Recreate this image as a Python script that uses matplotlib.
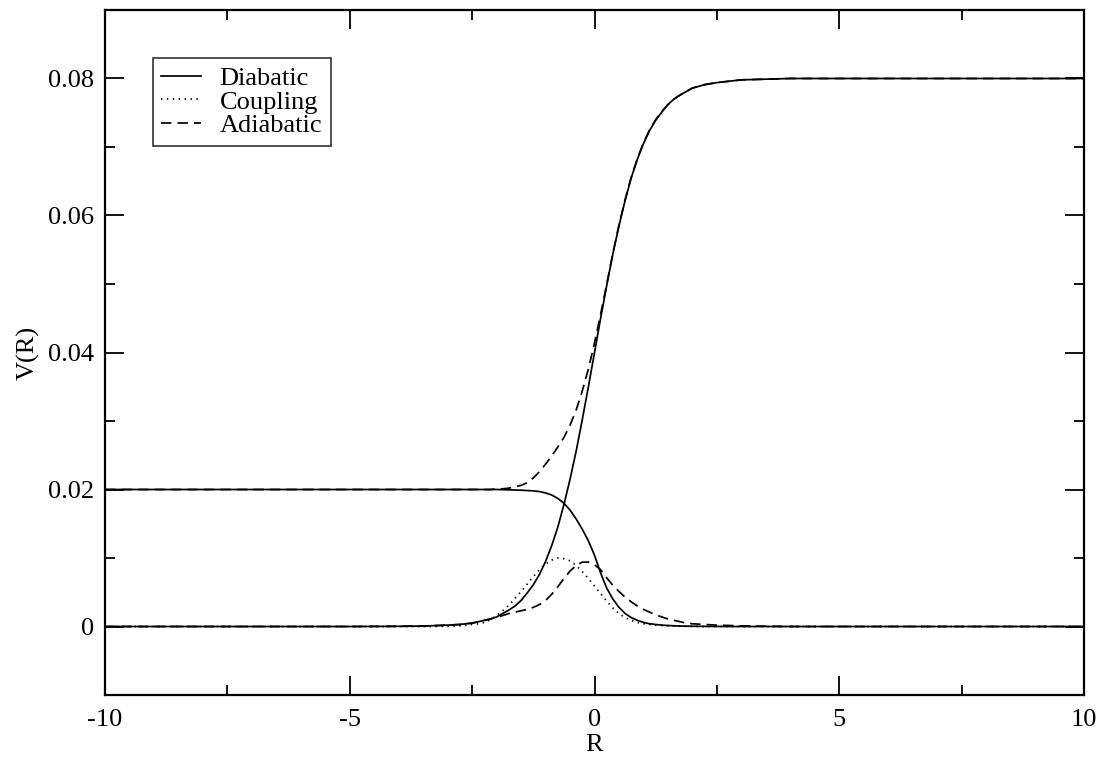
import matplotlib
matplotlib.use("Agg")
import matplotlib.pyplot as plt
from matplotlib.ticker import MultipleLocator

plt.rcParams['font.family'] = ['Liberation Serif', 'DejaVu Serif']

# Grid of R values (read positions)
R = [-10, -5, -4, -3.5, -3, -2.75, -2.5, -2.375, -2.25, -2.125, -2, -1.875, -1.75,
     -1.625, -1.5, -1.375, -1.25, -1.125, -1, -0.875, -0.75, -0.625, -0.5, -0.375,
     -0.25, -0.125, 0, 0.125, 0.25, 0.375, 0.5, 0.625, 0.75, 0.875, 1, 1.125, 1.25,
     1.375, 1.5, 1.625, 1.75, 1.875, 2, 2.25, 2.5, 3, 3.5, 4, 5, 10]

diabatic_1 = [0.0, 0.0, 0.00003, 0.00007, 0.0002, 0.0003, 0.0005, 0.0007, 0.0009, 0.0011,
              0.0014, 0.0019, 0.0024, 0.0030, 0.0038, 0.0049, 0.0061, 0.0076, 0.0095,
              0.0118, 0.0145, 0.0178, 0.0215, 0.0256, 0.0302, 0.0350, 0.0400, 0.0450,
              0.0498, 0.0544, 0.0585, 0.0622, 0.0655, 0.0682, 0.0705, 0.0724, 0.0739,
              0.0751, 0.0762, 0.0770, 0.0776, 0.0781, 0.0786, 0.0791, 0.0794, 0.0798,
              0.0799, 0.0800, 0.0800, 0.0800]

diabatic_2 = [0.0200, 0.0200, 0.0200, 0.0200, 0.0200, 0.0200, 0.0200, 0.0200, 0.0200, 0.0200,
              0.0200, 0.01998, 0.01995, 0.01993, 0.0199, 0.01985, 0.0198, 0.0197, 0.0195,
              0.0192, 0.0187, 0.0180, 0.0170, 0.0157, 0.0142, 0.0125, 0.0104, 0.0078,
              0.0056, 0.0040, 0.0028, 0.0019, 0.0013, 0.0009, 0.0006, 0.0004, 0.0003,
              0.0002, 0.00015, 0.0001, 0.00007, 0.00005, 0.00004, 0.00002, 0.00001, 0.0,
              0.0, 0.0, 0.0, 0.0]

coupling = [0.0, 0.0, 0.0, 0.0, 0.00003, 0.0001, 0.0003, 0.0004, 0.0006, 0.0010,
            0.0016, 0.0023, 0.0031, 0.0041, 0.0051, 0.0062, 0.0073, 0.0083, 0.0091,
            0.0097, 0.0100, 0.0099, 0.0096, 0.0089, 0.0080, 0.0070, 0.0059, 0.0048,
            0.0037, 0.0027, 0.0019, 0.0013, 0.0009, 0.0006, 0.0004, 0.0003, 0.0002,
            0.00015, 0.0001, 0.00007, 0.00005, 0.00003, 0.00002, 0.0, 0.0, 0.0,
            0.0, 0.0, 0.0, 0.0]

adiabatic_lower = [0.0, 0.0, 0.00003, 0.00007, 0.0002, 0.0003, 0.0005, 0.0007, 0.0009, 0.0011,
                   0.0014, 0.0016, 0.0019, 0.0021, 0.0023, 0.0025, 0.0028, 0.0032, 0.0038,
                   0.0047, 0.0058, 0.0070, 0.0081, 0.0089, 0.0094, 0.0094, 0.0090, 0.0083,
                   0.0071, 0.0060, 0.0051, 0.0043, 0.0036, 0.0030, 0.0025, 0.0021, 0.0017,
                   0.0014, 0.0011, 0.0009, 0.0007, 0.0005, 0.0004, 0.0003, 0.0002, 0.0001,
                   0.00005, 0.0, 0.0, 0.0]

adiabatic_upper = [0.0200, 0.0200, 0.0200, 0.0200, 0.0200, 0.0200, 0.0200, 0.0200, 0.0200, 0.0200,
                   0.0201, 0.0201, 0.0202, 0.0204, 0.0206, 0.0210, 0.0217, 0.0226, 0.0237,
                   0.0249, 0.0262, 0.0276, 0.0294, 0.0316, 0.0344, 0.0376, 0.0414, 0.0456,
                   0.0500, 0.0545, 0.0586, 0.0623, 0.0656, 0.0683, 0.0706, 0.0725, 0.0740,
                   0.0752, 0.0762, 0.0770, 0.0776, 0.0781, 0.0786, 0.0791, 0.0794, 0.0798,
                   0.0799, 0.0800, 0.0800, 0.0800]

x_ticks = [-10, -5, 0, 5, 10]
y_ticks = [0, 0.02, 0.04, 0.06, 0.08]

fig = plt.figure(figsize=(11.03, 7.62), dpi=100)
ax = fig.add_axes([0.0952, 0.0879, 0.8876, 0.899])

lw = 1.25
ax.plot(R, diabatic_1, color='black', lw=lw, ls='-', label='Diabatic')
ax.plot(R, diabatic_2, color='black', lw=lw, ls='-')
ax.plot(R, coupling, color='black', lw=lw, ls=(0, (0.8, 2.6)), label='Coupling')
ax.plot(R, adiabatic_lower, color='black', lw=lw, ls=(0, (6, 3.5)), label='Adiabatic')
ax.plot(R, adiabatic_upper, color='black', lw=lw, ls=(0, (6, 3.5)))

ax.set_xlim(-10, 10)
ax.set_ylim(-0.01, 0.09)
ax.set_xticks(x_ticks)
ax.set_xticklabels([str(t) for t in x_ticks])
ax.set_yticks(y_ticks)
ax.set_yticklabels(['0', '0.02', '0.04', '0.06', '0.08'])
ax.xaxis.set_minor_locator(MultipleLocator(2.5))
ax.yaxis.set_minor_locator(MultipleLocator(0.01))
ax.tick_params(which='both', direction='in', top=True, right=True, width=1.3,
               labelsize=19, colors='black')
ax.tick_params(axis='x', which='both', pad=10)
ax.tick_params(axis='y', which='both', pad=8)
ax.tick_params(which='major', length=14)
ax.tick_params(which='minor', length=7)
for s in ax.spines.values():
    s.set_linewidth(1.6)

ax.set_xlabel('R', fontsize=19, labelpad=2)
ax.set_ylabel('V(R)', fontsize=19, labelpad=6)

leg = ax.legend(loc='upper left', bbox_to_anchor=(0.0487, 0.9295), borderaxespad=0,
                fontsize=19, frameon=True, fancybox=False, edgecolor='black',
                handlelength=1.5, handletextpad=0.72, borderpad=0.32, labelspacing=0.0)
leg.get_frame().set_linewidth(1.2)

fig.savefig('out.png', dpi=100)
